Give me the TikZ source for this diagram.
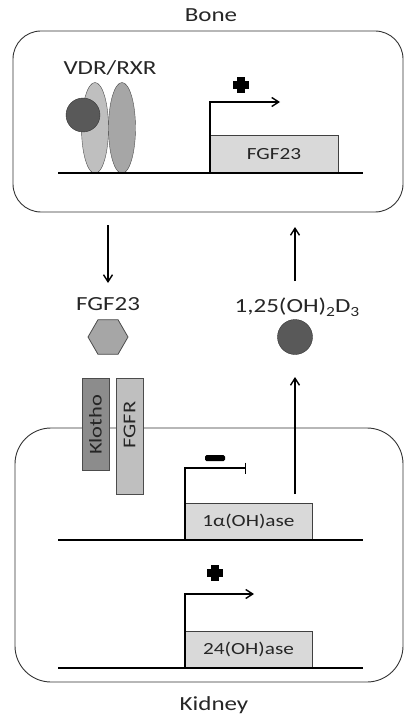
\documentclass[tikz,border=0pt]{standalone}
\usepackage{fontspec}
\setmainfont{Carlito}[FakeStretch=1.25]
\usetikzlibrary{shapes.geometric,arrows.meta}
\definecolor{boxgray}{HTML}{D9D9D9}
\definecolor{lightg}{HTML}{BFBFBF}
\definecolor{midg}{HTML}{A6A6A6}
\definecolor{darkg}{HTML}{8C8C8C}
\definecolor{ball}{HTML}{595959}
\newcommand{\mysub}[1]{\raisebox{-0.45ex}{\fontsize{14}{16}\selectfont #1}}
\begin{document}
\begin{tikzpicture}[x=1pt,y=-1pt,
  every node/.style={text=black!85},
  cell/.style={draw=black!80,line width=0.9pt,rounded corners=28pt},
  dna/.style={line width=2pt},
  gene/.style={draw=black!75,fill=boxgray,line width=0.8pt,minimum height=37pt,inner sep=0pt,font=\fontsize{17}{19}\selectfont},
  lbl/.style={font=\fontsize{20}{22}\selectfont,inner sep=0pt},
  prom/.style={line width=1.4pt},
  flow/.style={line width=1.4pt,-{Straight Barb[length=7pt,width=9pt]}},
  recep/.style={draw=black!70,line width=0.8pt,minimum width=27pt,inner sep=0pt}]
\useasboundingbox (0,0) rectangle (405,722);
% Bone
\node[lbl] (bonelbl) at (211,15) {Bone};
\draw[cell] (13,31) rectangle (403,212);
\node[draw=black!70,fill=lightg,ellipse,minimum width=27pt,minimum height=91pt,inner sep=0pt] (e1) at (95,128) {};
\node[draw=black!70,fill=midg,ellipse,minimum width=27pt,minimum height=91pt,inner sep=0pt] (e2) at (122,128) {};
\node[draw=black!80,fill=ball,circle,minimum size=34pt,inner sep=0pt] (vd) at (83,115) {};
\node[lbl] (vdr) at (110,68) {VDR/RXR};
\node[gene,minimum width=128pt] (fgfgene) at (274,154) {FGF23};
\draw[dna] (58,173) -- (363,173);
\coordinate (bp) at (210,173);
\coordinate (bt) at (210,102);
\coordinate (be) at (280,102);
\draw[prom,-{Straight Barb[length=7pt,width=9pt]}] (bp) -- (bt) -- (be);
\fill (237,77) rectangle (245,93);
\fill (233,81) rectangle (249,89);
% middle
\coordinate (d1) at (108,225);
\coordinate (d2) at (108,283);
\draw[flow] (d1) -- (d2);
\coordinate (u1) at (295,281);
\coordinate (u2) at (295,227);
\draw[flow] (u1) -- (u2);
\node[lbl] (fgflbl) at (108,304) {FGF23};
\node[lbl,anchor=base] (vitlbl) at (297,312) {1,25(OH)\mysub{2}D\mysub{3}};
\node[draw=black!70,fill=midg,regular polygon,regular polygon sides=6,minimum size=40pt,inner sep=0pt,line width=0.8pt] (hex) at (108,337) {};
\node[draw=black!80,fill=ball,circle,minimum size=35pt,inner sep=0pt] (vit) at (295,337) {};
% Kidney
\draw[cell,rounded corners=36pt] (15,428) rectangle (403,682);
\node[recep,fill=darkg,minimum height=92pt] (klotho) at (95.5,424) {};
\node[rotate=90,font=\fontsize{18}{20}\selectfont] at (95.5,425) {Klotho};
\node[recep,fill=lightg,minimum height=116pt] (fgfr) at (129.5,436) {};
\node[rotate=90,font=\fontsize{18}{20}\selectfont] at (129.5,425) {FGFR};
\node[lbl] (kidlbl) at (214,705) {Kidney};
% 1alpha
\node[gene,minimum width=127pt] (onea) at (248.5,521.5) {1α(OH)ase};
\draw[dna] (58,540) -- (363,540);
\coordinate (ap) at (185,540);
\coordinate (at) at (185,468);
\coordinate (ae) at (246,468);
\draw[prom,-{Bar[width=11pt]}] (ap) -- (at) -- (ae);
\fill[rounded corners=1.5pt] (205,455) rectangle (225,461);
\coordinate (va) at (295,494);
\coordinate (vb) at (295,377);
\draw[flow] (va) -- (vb);
% 24
\node[gene,minimum width=127pt] (tf) at (248.5,649.5) {24(OH)ase};
\draw[dna] (58,668) -- (363,668);
\coordinate (cp) at (185,668);
\coordinate (ct) at (185,594);
\coordinate (ce) at (254,594);
\draw[prom,-{Straight Barb[length=7pt,width=9pt]}] (cp) -- (ct) -- (ce);
\fill (211,565) rectangle (219,581);
\fill (207,569) rectangle (223,577);
\end{tikzpicture}
\end{document}
